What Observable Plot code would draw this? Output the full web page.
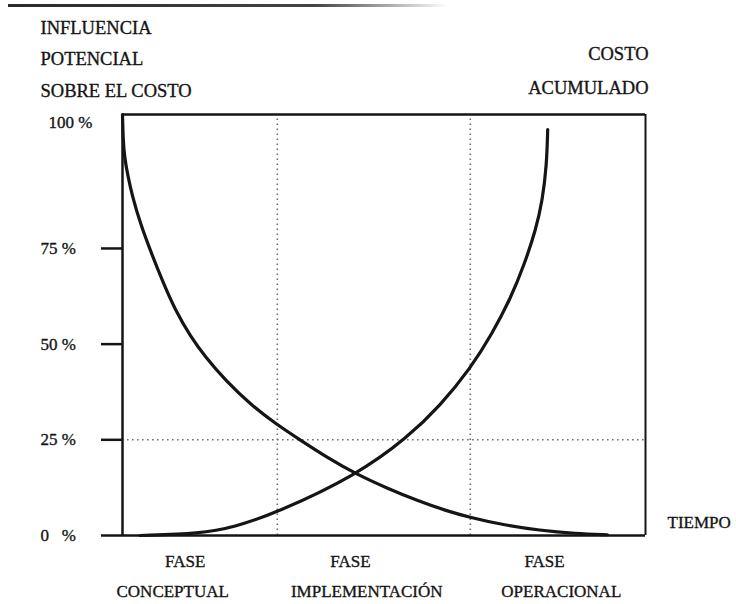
<!DOCTYPE html>
<html>
<head>
<meta charset="utf-8">
<script src="https://cdn.jsdelivr.net/npm/d3@7"></script>
<script src="https://cdn.jsdelivr.net/npm/@observablehq/plot@0.6"></script>
<style>
  body { margin: 0; background: #fff; }
  #wrap { position: relative; width: 736px; height: 604px; }
  #scan { position: absolute; left: 8px; top: 4px; width: 440px; height: 3px; z-index: 2;
          background: linear-gradient(to right, #2a2a2a 0%, #444 70%, rgba(90,90,90,0) 100%); }
  #chart { position: absolute; left: 0; top: 0; }
</style>
</head>
<body>
<div id="wrap"><div id="scan"></div><div id="chart"></div></div>
<script>
// Influencia potencial sobre el costo (decreasing curve), in % over time (0-100)
const influenceX = [0, 0.13, 0.38, 0.96, 1.9, 3.4, 5.4, 7.6, 10.1, 13.0, 15.9, 19.7, 24.5, 29.6, 33.5, 39.2, 44.9, 50.7, 56.4, 61.8, 66.5, 72.3, 79.9, 86.6, 92.7];
const influenceY = [100, 95.1, 92.2, 88.8, 84.7, 79.7, 74.2, 66.6, 58.8, 52.0, 46.5, 40.5, 34.2, 28.9, 25.4, 20.3, 15.9, 12.3, 9.1, 6.5, 4.7, 2.9, 1.3, 0.5, 0.2];
// Costo acumulado (increasing curve)
const costX = [3.4, 14.9, 21.2, 29.6, 44.9, 54.5, 60.8, 66.5, 70.7, 74.2, 76.9, 79.0, 80.3, 81.1, 81.3];
const costY = [0, 0.5, 2.1, 6.0, 15.9, 25.6, 34.0, 43.6, 52.8, 61.9, 71.1, 78.4, 84.0, 90.5, 97.2];

const phaseBounds = [29.6, 66.5];
const refLevel = [25];
const yTicks = [0, 25, 50, 75];
const yTickLabels = ["0\u00a0\u00a0\u00a0%", "25 %", "50 %", "75 %"];
const topLabel = "100 %";
const leftTitle = ["INFLUENCIA", "POTENCIAL", "SOBRE EL COSTO"];
const rightTitle = ["COSTO", "ACUMULADO"];
const xTitle = "TIEMPO";
const phaseWord = "FASE";
const phaseNames = ["CONCEPTUAL", "IMPLEMENTACIÓN", "OPERACIONAL"];
const phaseWordX = [12.0, 43.6, 80.7];
const phaseNameX = [9.6, 46.7, 83.9];

const influence = influenceX.map((x, i) => ({x, y: influenceY[i]}));
const cost = costX.map((x, i) => ({x, y: costY[i]}));

const ink = "#151515";
const dotted = {stroke: "#6e6e6e", strokeWidth: 1.6, strokeDasharray: "1.6,3.4"};
const txt = {fill: ink, stroke: ink, strokeWidth: 0.35, lineAnchor: "middle"};
// the printed axis is stretched above 75 %: 75→100 % spans 1.4× the height of each lower quarter
const yStretch = v => v <= 75 ? v : 75 + (v - 75) * 1.4;

const chart = Plot.plot({
  width: 736,
  height: 604,
  marginLeft: 122,
  marginRight: 91,
  marginTop: 114,
  marginBottom: 69,
  style: {fontFamily: "'Liberation Serif', 'Times New Roman', serif", fontSize: "17px", color: ink, background: "white"},
  x: {domain: [0, 100], axis: null},
  y: {domain: [0, 110], transform: yStretch, axis: null},
  marks: [
    Plot.ruleX(phaseBounds, {y1: 0, y2: 100, ...dotted}),
    Plot.ruleY(refLevel, {x1: 0, x2: 100, ...dotted}),
    Plot.ruleY([100], {x1: 0, x2: 100, stroke: ink, strokeWidth: 2.5}),
    Plot.ruleX([100], {y1: 0, y2: 100, stroke: ink, strokeWidth: 2}),
    Plot.ruleX([0], {y1: 0, y2: 100, stroke: ink, strokeWidth: 2.5}),
    Plot.ruleY([0], {x1: 0, x2: 100, stroke: ink, strokeWidth: 2.5}),
    Plot.axisY({ticks: yTicks, tickSize: 21, label: null, tickFormat: () => "", strokeWidth: 2.5, stroke: ink}),
    Plot.text(yTicks, {y: d => d, text: (d, i) => yTickLabels[i], frameAnchor: "left", textAnchor: "start", dx: -82, ...txt}),
    Plot.line(influence, {x: "x", y: "y", curve: "basis", stroke: ink, strokeWidth: 3.2}),
    Plot.line(cost, {x: "x", y: "y", curve: "basis", stroke: ink, strokeWidth: 3.2}),
    Plot.text([topLabel], {text: d => d, frameAnchor: "top-left", textAnchor: "start", dx: -74, dy: 8, ...txt}),
    Plot.text([leftTitle.join("\n")], {text: d => d, frameAnchor: "top-left", textAnchor: "start", dx: -82, dy: -59, lineHeight: 1.68, fontSize: 18.5, ...txt}),
    Plot.text([rightTitle.join("\n")], {text: d => d, frameAnchor: "top-right", textAnchor: "end", dx: 3, dy: -48, lineHeight: 1.84, fontSize: 18.5, ...txt}),
    Plot.text([xTitle], {text: d => d, frameAnchor: "bottom-right", textAnchor: "start", dx: 22, dy: -13, ...txt}),
    Plot.text(phaseWordX, {x: d => d, text: () => phaseWord, frameAnchor: "bottom", dy: 26, ...txt}),
    Plot.text(phaseNameX, {x: d => d, text: (d, i) => phaseNames[i], frameAnchor: "bottom", dy: 56, ...txt})
  ]
});
document.getElementById("chart").appendChild(chart);
</script>
</body>
</html>
